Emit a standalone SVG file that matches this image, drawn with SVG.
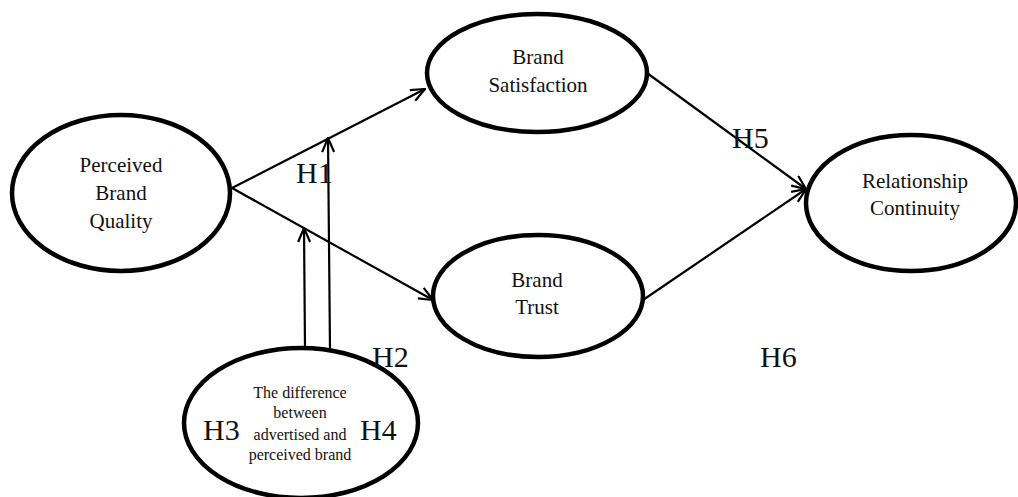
<svg xmlns="http://www.w3.org/2000/svg" width="1018" height="497" viewBox="0 0 1018 497">
<style>
.node{fill:#fff;stroke:#000;stroke-width:4.5}
.lbl{font-family:"Liberation Serif","Times New Roman",serif;font-size:21px;fill:#111;text-anchor:middle}
.sm{font-family:"Liberation Serif","Times New Roman",serif;font-size:16px;fill:#111;text-anchor:middle}
.h{font-family:"Liberation Serif","Times New Roman",serif;font-size:30px;fill:#111}
.edge{stroke:#000;stroke-width:2.2;fill:none;marker-end:url(#arr)}
</style>
<defs>
<marker id="arr" markerUnits="userSpaceOnUse" viewBox="0 0 16 14" markerWidth="16" markerHeight="14" refX="15" refY="7" orient="auto">
<path d="M1,1 L15,7 L1,13" fill="none" stroke="#000" stroke-width="2.2"/>
</marker>
</defs>
<rect width="1018" height="497" fill="#fff"/>
<g id="nodes">
<g id="pbq"><ellipse class="node" cx="121" cy="193" rx="109" ry="78"/>
<text class="lbl" x="121" y="172">Perceived</text><text class="lbl" x="121" y="200">Brand</text><text class="lbl" x="121" y="228">Quality</text></g>
<g id="bs"><ellipse class="node" cx="537" cy="73" rx="110" ry="59"/>
<text class="lbl" x="538" y="64">Brand</text><text class="lbl" x="538" y="92">Satisfaction</text></g>
<g id="bt"><ellipse class="node" cx="538" cy="296" rx="105" ry="61"/>
<text class="lbl" x="537" y="287">Brand</text><text class="lbl" x="537" y="314">Trust</text></g>
<g id="rc"><ellipse class="node" cx="911" cy="203" rx="105" ry="68"/>
<text class="lbl" x="915" y="188">Relationship</text><text class="lbl" x="915" y="215">Continuity</text></g>
<g id="diff"><ellipse class="node" cx="301" cy="423" rx="117" ry="75"/>
<text class="sm" x="300" y="398">The difference</text><text class="sm" x="300" y="418">between</text><text class="sm" x="300" y="440">advertised and</text><text class="sm" x="300" y="460">perceived brand</text></g>
</g>
<g id="connectors">
<line class="edge" x1="232" y1="188" x2="425" y2="89"/>
<line class="edge" x1="232" y1="188" x2="433" y2="300"/>
<line class="edge" x1="647" y1="73" x2="806" y2="189"/>
<line class="edge" x1="643" y1="300" x2="806" y2="189"/>
<line class="edge" x1="305" y1="348" x2="304" y2="228"/>
<line class="edge" x1="330" y1="350" x2="328" y2="138"/>
</g>
<g id="labels">
<text class="h" x="296" y="183">H1</text>
<text class="h" x="372" y="367">H2</text>
<text class="h" x="203" y="440">H3</text>
<text class="h" x="360" y="440">H4</text>
<text class="h" x="732" y="148">H5</text>
<text class="h" x="760" y="367">H6</text>
</g>
</svg>
